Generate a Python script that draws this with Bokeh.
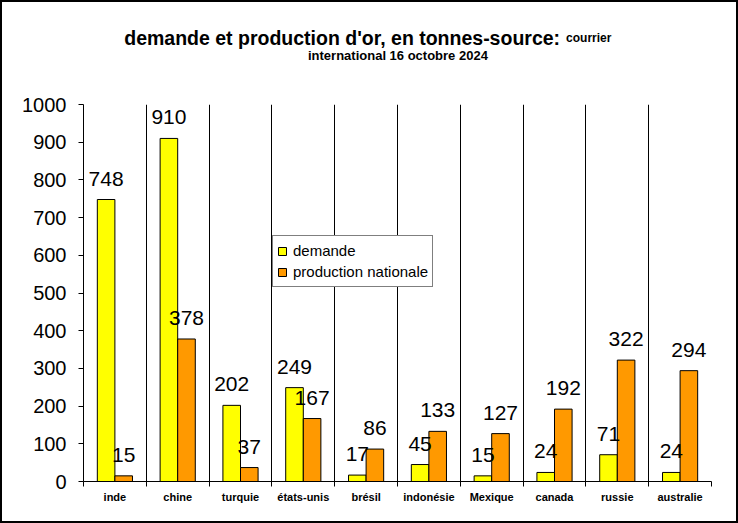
import numpy as np
from bokeh.plotting import figure
from bokeh.layouts import column
from bokeh.models import Range1d, FixedTicker, ColumnDataSource
from bokeh.core.properties import value
from bokeh.embed import file_html
from bokeh.resources import INLINE

# ---- data ----
countries = ["inde", "chine", "turquie", "états-unis", "brésil", "indonésie",
             "Mexique", "canada", "russie", "australie"]
demande = [748, 910, 202, 249, 17, 45, 15, 24, 71, 24]
production = [15, 378, 37, 167, 86, 133, 127, 192, 322, 294]
y_ticks = [0, 100, 200, 300, 400, 500, 600, 700, 800, 900, 1000]
title_main = "demande et production d'or, en tonnes-source:"
title_small = "courrier"
title_line2 = "international 16 octobre 2024"

FONT = "Liberation Sans"
YELLOW = "#FFFF00"
ORANGE = "#FF9900"

W = 734          # inner width (2px CSS border on each side)
HEAD_H = 88      # header strip height
CHART_H = 431    # chart height

# ---- header (title) ----
h = figure(width=W, height=HEAD_H, output_backend="svg", toolbar_location=None,
           x_range=Range1d(0, W), y_range=Range1d(HEAD_H, 0),
           x_axis_type=None, y_axis_type=None, min_border=0)
h.outline_line_color = None
h.grid.grid_line_color = None
h.background_fill_color = "white"
h.border_fill_color = "white"
h.text(x=[557], y=[35], text=[title_main], text_align="right",
       text_baseline="alphabetic", text_font=value(FONT), text_font_style="bold",
       text_font_size="19.5px", text_color="black")
h.text(x=[564], y=[35], text=[title_small], text_align="left",
       text_baseline="alphabetic", text_font=value(FONT), text_font_style="bold",
       text_font_size="12px", text_color="black")
h.text(x=[367.5], y=[53], text=[title_line2], text_align="center",
       text_baseline="alphabetic", text_font=value(FONT), text_font_style="bold",
       text_font_size="13px", text_color="black")

# ---- chart ----
n = len(countries)
idx = np.arange(n)
bw = 0.28
x_dem = idx + 0.5 - bw / 2
x_prod = idx + 0.5 + bw / 2

src_d = ColumnDataSource(dict(x=x_dem, y=demande, t=[str(v) for v in demande]))
src_p = ColumnDataSource(dict(x=x_prod, y=production, t=[str(v) for v in production]))

p = figure(width=W, height=CHART_H, output_backend="svg", toolbar_location=None,
           x_range=Range1d(0, n), y_range=Range1d(0, 1000),
           min_border_left=81, min_border_right=25, min_border_top=14,
           min_border_bottom=40)
p.outline_line_color = None
p.background_fill_color = "white"
p.border_fill_color = "white"

p.vbar(x="x", top="y", width=bw, source=src_d, fill_color=YELLOW,
       line_color="black", line_width=1, legend_label="demande")
p.vbar(x="x", top="y", width=bw, source=src_p, fill_color=ORANGE,
       line_color="black", line_width=1, legend_label="production nationale")

for src in (src_d, src_p):
    p.text(x="x", y="y", text="t", source=src, text_align="center",
           text_baseline="alphabetic", y_offset=-21,
           text_font=value(FONT), text_font_size="21px", text_color="black")

xa = p.xaxis[0]
xa.ticker = FixedTicker(ticks=list(idx + 0.5), minor_ticks=list(range(n + 1)))
xa.major_label_overrides = {float(i + 0.5): c for i, c in enumerate(countries)}
xa.major_tick_out = 0
xa.major_tick_in = 0
xa.minor_tick_out = 5
xa.minor_tick_in = 0
xa.minor_tick_line_color = "black"
xa.major_label_text_font = FONT
xa.major_label_text_font_style = "bold"
xa.major_label_text_font_size = "11px"
xa.major_label_text_color = "black"
xa.major_label_standoff = 4
xa.axis_line_color = "black"

ya = p.yaxis[0]
ya.ticker = FixedTicker(ticks=y_ticks)
ya.major_tick_out = 5
ya.major_tick_in = 0
ya.minor_tick_line_color = None
ya.major_label_text_font = FONT
ya.major_label_text_font_size = "20px"
ya.major_label_text_color = "black"
ya.major_label_standoff = 12
ya.axis_line_color = "black"
ya.major_tick_line_color = "black"

p.ygrid.grid_line_color = None
p.xgrid.ticker = FixedTicker(ticks=list(range(n + 1)))
p.xgrid.grid_line_color = "black"
p.xgrid.grid_line_width = 1

lg = p.legend[0]
lg.location = (189, 194)
lg.border_line_color = "black"
lg.border_line_width = 1
lg.background_fill_color = "white"
lg.background_fill_alpha = 1
lg.label_text_font = FONT
lg.label_text_font_size = "15px"
lg.label_text_color = "black"
lg.glyph_width = 10
lg.glyph_height = 10
lg.label_height = 21
lg.label_standoff = 6
lg.padding = 4
lg.spacing = 0
lg.margin = 0

layout = column(h, p, spacing=0,
                styles={"border": "2px solid black", "background-color": "white"})

open("out.html", "w").write(file_html(layout, INLINE))
